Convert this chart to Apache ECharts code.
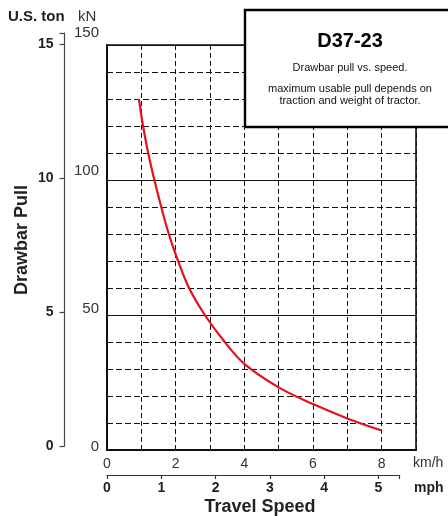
<!DOCTYPE html>
<html><head><meta charset="utf-8">
<script src="https://cdn.jsdelivr.net/npm/echarts@6/dist/echarts.min.js"></script>
<style>html,body{margin:0;padding:0;background:#fff}#c{width:448px;height:516px}</style>
</head><body><div id="c"></div>
<script>
// Data
const speedKmh = [0.93, 1.05, 1.2, 1.38, 1.58, 1.8, 2.07, 2.39, 2.85, 3.43, 4.0, 5.0, 6.0, 7.0, 8.0];
const pullKN   = [130, 120, 110, 100, 90, 80, 70, 60, 50, 40, 31.9, 23.2, 17.0, 11.7, 7.2];
const kmhTicks = [0, 2, 4, 6, 8];
const mphTicks = [0, 1, 2, 3, 4, 5];
const tonTicks = [0, 5, 10, 15];
const kNTicks = [0, 50, 100, 150];
const title = 'D37-23';
const subtitle = 'Drawbar pull vs. speed.';
const note1 = 'maximum usable pull depends on';
const note2 = 'traction and weight of tractor.';

const FONT = '"Liberation Sans", Arial, Helvetica, sans-serif';
const chart = echarts.init(document.getElementById('c'), null, {renderer: 'canvas'});
const curve = speedKmh.map((x, i) => [x, pullKN[i]]);

chart.setOption({
  animation: false,
  backgroundColor: '#fff',
  grid: [
    {left: 107, top: 45, width: 309, height: 405, show: true, borderColor: '#111', borderWidth: 1.6, backgroundColor: 'transparent'},
    {left: 107, top: 474, width: 292, height: 1},
    {left: 64.5, top: 33, width: 1, height: 413},
    {left: 107, top: 33, width: 1, height: 414}
  ],
  xAxis: [
    {gridIndex: 0, type: 'value', min: 0, max: 9, interval: 1,
     axisLine: {show: true, lineStyle: {color: '#111', width: 2}}, axisTick: {show: false},
     axisLabel: {margin: 7, color: '#333', fontSize: 14, fontFamily: FONT,
       formatter: v => kmhTicks.indexOf(v) >= 0 ? String(v) : ''},
     splitLine: {show: true, lineStyle: {color: '#111', type: [5, 3], width: 1}}},
    {gridIndex: 1, type: 'value', min: 0, max: 5.38, interval: 1, position: 'bottom',
     axisLine: {show: true, onZero: false, lineStyle: {color: '#333', width: 1.2}},
     axisTick: {show: true, length: 4, lineStyle: {color: '#333', width: 1.2}},
     axisLabel: {margin: 6, color: '#222', fontSize: 14, fontWeight: 'bold', fontFamily: FONT,
       formatter: v => mphTicks.indexOf(v) >= 0 ? String(v) : ''},
     splitLine: {show: false}},
    {gridIndex: 2, type: 'value', min: 0, max: 1, show: false},
    {gridIndex: 3, type: 'value', min: 0, max: 1, show: false}
  ],
  yAxis: [
    {gridIndex: 0, type: 'value', min: 0, max: 150, interval: 10,
     axisLine: {show: true, lineStyle: {color: '#111', width: 2}}, axisTick: {show: false},
     axisLabel: {show: false},
     splitLine: {show: true, lineStyle: {color: '#111', type: [6, 3], width: 1}}},
    {gridIndex: 0, type: 'value', min: 0, max: 150, interval: 50, position: 'left',
     axisLine: {show: false}, axisTick: {show: false}, axisLabel: {show: false},
     splitLine: {show: true, lineStyle: {color: '#111', type: 'solid', width: 1}}},
    {gridIndex: 2, type: 'value', min: 0, max: 15.41, interval: 5, position: 'left',
     axisLine: {show: true, lineStyle: {color: '#444', width: 1.2}},
     axisTick: {show: true, length: 5, lineStyle: {color: '#444', width: 1.2}},
     axisLabel: {margin: 11, color: '#222', fontSize: 14, fontWeight: 'bold', fontFamily: FONT,
       formatter: v => tonTicks.indexOf(v) >= 0 ? String(v) : ''},
     splitLine: {show: false}},
    {gridIndex: 3, type: 'value', min: 0, max: 150, interval: 50, position: 'left',
     axisLine: {show: false}, axisTick: {show: false},
     axisLabel: {margin: 8, color: '#333', fontSize: 15, fontFamily: FONT,
       formatter: v => kNTicks.indexOf(v) >= 0 ? String(v) : ''},
     splitLine: {show: false}},
    {gridIndex: 1, type: 'value', min: 0, max: 1, show: false}
  ],
  series: [{
    type: 'line', xAxisIndex: 0, yAxisIndex: 0, data: curve, smooth: 0.35,
    showSymbol: false, symbol: 'none',
    lineStyle: {color: '#e3101d', width: 2.2}, z: 5
  }],
  graphic: [
    {type: 'rect', z: 100, shape: {x: 245, y: 10, width: 215, height: 117},
     style: {fill: '#fff', stroke: '#000', lineWidth: 2.4}},
    {type: 'text', z: 101, x: 350, y: 41, style: {text: title, font: 'bold 20px ' + FONT, fill: '#000', textAlign: 'center', textVerticalAlign: 'middle'}},
    {type: 'text', z: 101, x: 350, y: 68, style: {text: subtitle, font: '11px ' + FONT, fill: '#111', textAlign: 'center', textVerticalAlign: 'middle'}},
    {type: 'text', z: 101, x: 350, y: 88.5, style: {text: note1, font: '11px ' + FONT, fill: '#111', textAlign: 'center', textVerticalAlign: 'middle'}},
    {type: 'text', z: 101, x: 350, y: 100.5, style: {text: note2, font: '11px ' + FONT, fill: '#111', textAlign: 'center', textVerticalAlign: 'middle'}},
    {type: 'text', x: 8, y: 17, style: {text: 'U.S. ton', font: 'bold 15px ' + FONT, fill: '#222', textVerticalAlign: 'middle'}},
    {type: 'text', x: 78, y: 17, style: {text: 'kN', font: '15px ' + FONT, fill: '#333', textVerticalAlign: 'middle'}},
    {type: 'text', x: 413, y: 463, style: {text: 'km/h', font: '14px ' + FONT, fill: '#333', textVerticalAlign: 'middle'}},
    {type: 'text', x: 414, y: 488, style: {text: 'mph', font: 'bold 14px ' + FONT, fill: '#222', textVerticalAlign: 'middle'}},
    {type: 'text', x: 260, y: 507, style: {text: 'Travel Speed', font: 'bold 18px ' + FONT, fill: '#222', textAlign: 'center', textVerticalAlign: 'middle'}},
    {type: 'text', x: 22, y: 240, rotation: Math.PI / 2, style: {text: 'Drawbar Pull', font: 'bold 18px ' + FONT, fill: '#222', textAlign: 'center', textVerticalAlign: 'middle'}}
  ]
});
</script></body></html>
